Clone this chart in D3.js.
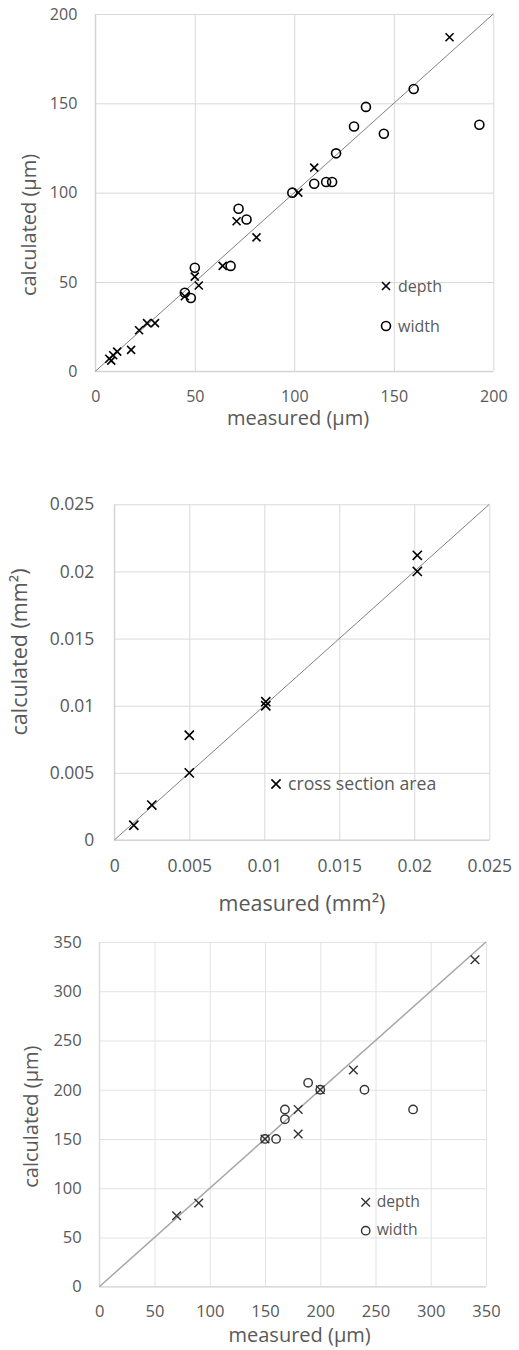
<!DOCTYPE html>
<html>
<head>
<meta charset="utf-8">
<script src="https://cdn.jsdelivr.net/npm/d3@7"></script>
<style>
  html, body { margin: 0; padding: 0; background: #fff; }
  svg { display: block; }
  text { font-family: "Open Sans", sans-serif; fill: #595959; }
</style>
</head>
<body>
<svg id="chart" width="519" height="1350"></svg>
<script>
// ---------- Panel 1: depth & width (µm) ----------
const p1DepthMeasured   = [7, 8, 9, 11, 18, 22, 26, 30, 45, 50, 52, 64, 71, 81, 102, 110, 178];
const p1DepthCalculated = [7, 6, 9, 11, 12, 23, 27, 27, 42, 53, 48, 59, 84, 75, 100, 114, 187];
const p1WidthMeasured   = [45, 48, 50, 68, 72, 76, 99, 110, 116, 119, 121, 130, 136, 145, 160, 193];
const p1WidthCalculated = [44, 41, 58, 59, 91, 85, 100, 105, 106, 106, 122, 137, 148, 133, 158, 138];
const p1Ticks = [0, 50, 100, 150, 200];

// ---------- Panel 2: cross section area (mm²) ----------
const p2Measured   = [0.0013, 0.0025, 0.005, 0.005, 0.0101, 0.0101, 0.0202, 0.0202];
const p2Calculated = [0.0011, 0.0026, 0.005, 0.0078, 0.0100, 0.0103, 0.0200, 0.0212];
const p2Ticks = [0, 0.005, 0.01, 0.015, 0.02, 0.025];

// ---------- Panel 3: depth & width (µm) ----------
const p3DepthMeasured   = [70, 90, 150, 180, 180, 200, 230, 340];
const p3DepthCalculated = [72, 85, 150, 155, 180, 200, 220, 332];
const p3WidthMeasured   = [150, 160, 168, 168, 189, 200, 240, 284];
const p3WidthCalculated = [150, 150, 170, 180, 207, 200, 200, 180];
const p3Ticks = [0, 50, 100, 150, 200, 250, 300, 350];

const svg = d3.select("#chart");
svg.append("rect").attr("width", 519).attr("height", 1350).attr("fill", "#fff");

function drawMarker(g, shape, cx, cy, m) {
  if (shape === "cross") {
    const s = m.cross;
    g.append("path")
      .attr("d", `M${cx - s},${cy - s}L${cx + s},${cy + s}M${cx - s},${cy + s}L${cx + s},${cy - s}`)
      .attr("stroke", m.color).attr("stroke-width", m.sw).attr("fill", "none");
  } else {
    g.append("circle").attr("cx", cx).attr("cy", cy).attr("r", m.r)
      .attr("stroke", m.color).attr("stroke-width", m.sw).attr("fill", "none");
  }
}

function panel(o) {
  const x = d3.scaleLinear().domain(o.domain).range([o.left, o.right]);
  const y = d3.scaleLinear().domain(o.domain).range([o.bottom, o.top]);
  const g = svg.append("g");

  // grid
  const gx = g.append("g").attr("transform", `translate(0,${o.bottom})`)
    .call(d3.axisBottom(x).tickValues(o.ticks).tickSize(-(o.bottom - o.top)).tickFormat(""));
  gx.select(".domain").remove();
  gx.selectAll("line").attr("stroke", o.grid).attr("stroke-width", 1);
  const gy = g.append("g").attr("transform", `translate(${o.left},0)`)
    .call(d3.axisLeft(y).tickValues(o.ticks).tickSize(-(o.right - o.left)).tickFormat(""));
  gy.select(".domain").remove();
  gy.selectAll("line").attr("stroke", o.grid).attr("stroke-width", 1);
  // axis lines
  g.append("line").attr("x1", o.left).attr("x2", o.right).attr("y1", o.bottom).attr("y2", o.bottom)
    .attr("stroke", o.axisColor).attr("stroke-width", 1);
  g.append("line").attr("x1", o.left).attr("x2", o.left).attr("y1", o.top).attr("y2", o.bottom)
    .attr("stroke", o.axisColor).attr("stroke-width", 1);

  // tick labels
  const xl = g.append("g").attr("transform", `translate(0,${o.bottom})`)
    .call(d3.axisBottom(x).tickValues(o.ticks).tickSize(0).tickPadding(o.xPad).tickFormat(o.fmt));
  xl.select(".domain").remove();
  xl.selectAll("text").attr("font-size", o.tickFs).attr("font-family", "Open Sans").attr("fill", "#595959");
  const yl = g.append("g").attr("transform", `translate(${o.left},0)`)
    .call(d3.axisLeft(y).tickValues(o.ticks).tickSize(0).tickPadding(o.yPad).tickFormat(o.fmt));
  yl.select(".domain").remove();
  yl.selectAll("text").attr("font-size", o.tickFs).attr("font-family", "Open Sans").attr("fill", "#595959");

  // diagonal
  g.append("line")
    .attr("x1", x(o.domain[0])).attr("y1", y(o.domain[0]))
    .attr("x2", x(o.domain[1])).attr("y2", y(o.domain[1]))
    .attr("stroke", o.diag).attr("stroke-width", o.diagW);

  // series
  o.series.forEach(s => {
    s.xs.forEach((v, i) => drawMarker(g, s.shape, x(v), y(s.ys[i]), o.marker));
  });

  // legend
  o.legend.forEach(l => {
    drawMarker(g, l.shape, l.mx, l.my, o.marker);
    g.append("text").attr("x", l.tx).attr("y", l.ty).attr("font-size", o.legFs).text(l.label);
  });

  // titles
  g.append("text").attr("x", o.xTitleX).attr("y", o.xTitleY).attr("text-anchor", "middle")
    .attr("font-size", o.titleFs).text(o.xTitle);
  g.append("text").attr("transform", `translate(${o.yTitleX},${o.yTitleY}) rotate(-90)`)
    .attr("text-anchor", "middle").attr("font-size", o.titleFs).text(o.yTitle);
}

panel({
  domain: [0, 200], ticks: p1Ticks, fmt: d3.format("d"),
  left: 95.3, right: 493.3, top: 14, bottom: 371.3,
  grid: "#d9d9d9", axisColor: "#cfcfcf", diag: "#808080", diagW: 1,
  tickFs: 16, xPad: 19, yPad: 18, titleFs: 20, legFs: 16,
  marker: { cross: 4, r: 4.5, sw: 1.6, color: "#000" },
  series: [
    { xs: p1DepthMeasured, ys: p1DepthCalculated, shape: "cross" },
    { xs: p1WidthMeasured, ys: p1WidthCalculated, shape: "circle" }
  ],
  legend: [
    { shape: "cross", mx: 386, my: 286, tx: 398, ty: 291.7, label: "depth" },
    { shape: "circle", mx: 386, my: 326, tx: 398, ty: 331.7, label: "width" }
  ],
  xTitle: "measured (\u00b5m)", xTitleX: 298, xTitleY: 425,
  yTitle: "calculated (\u00b5m)", yTitleX: 35.5, yTitleY: 225
});

panel({
  domain: [0, 0.025], ticks: p2Ticks, fmt: d => d === 0 ? "0" : String(+d.toFixed(3)),
  left: 114.3, right: 489.3, top: 504.3, bottom: 840,
  grid: "#d9d9d9", axisColor: "#cfcfcf", diag: "#808080", diagW: 1,
  tickFs: 17.5, xPad: 19.6, yPad: 20, titleFs: 21.5, legFs: 17.7,
  marker: { cross: 4.6, r: 4.5, sw: 1.6, color: "#000" },
  series: [
    { xs: p2Measured, ys: p2Calculated, shape: "cross" }
  ],
  legend: [
    { shape: "cross", mx: 276, my: 784, tx: 288, ty: 789.5, label: "cross section area" }
  ],
  xTitle: "measured (mm\u00b2)", xTitleX: 302, xTitleY: 911,
  yTitle: "calculated (mm\u00b2)", yTitleX: 27, yTitleY: 652
});

panel({
  domain: [0, 350], ticks: p3Ticks, fmt: d3.format("d"),
  left: 99.3, right: 486, top: 942, bottom: 1286.7,
  grid: "#e3e3e3", axisColor: "#d6d6d6", diag: "#a6a6a6", diagW: 1.5,
  tickFs: 16.5, xPad: 18.6, yPad: 17.6, titleFs: 20, legFs: 15.7,
  marker: { cross: 4.3, r: 4.2, sw: 1.4, color: "#333" },
  series: [
    { xs: p3DepthMeasured, ys: p3DepthCalculated, shape: "cross" },
    { xs: p3WidthMeasured, ys: p3WidthCalculated, shape: "circle" }
  ],
  legend: [
    { shape: "cross", mx: 365.7, my: 1202.3, tx: 376.7, ty: 1207.3, label: "depth" },
    { shape: "circle", mx: 365.7, my: 1230.7, tx: 376.7, ty: 1235, label: "width" }
  ],
  xTitle: "measured (\u00b5m)", xTitleX: 299.6, xTitleY: 1342,
  yTitle: "calculated (\u00b5m)", yTitleX: 37.5, yTitleY: 1116.7
});
</script>
</body>
</html>
